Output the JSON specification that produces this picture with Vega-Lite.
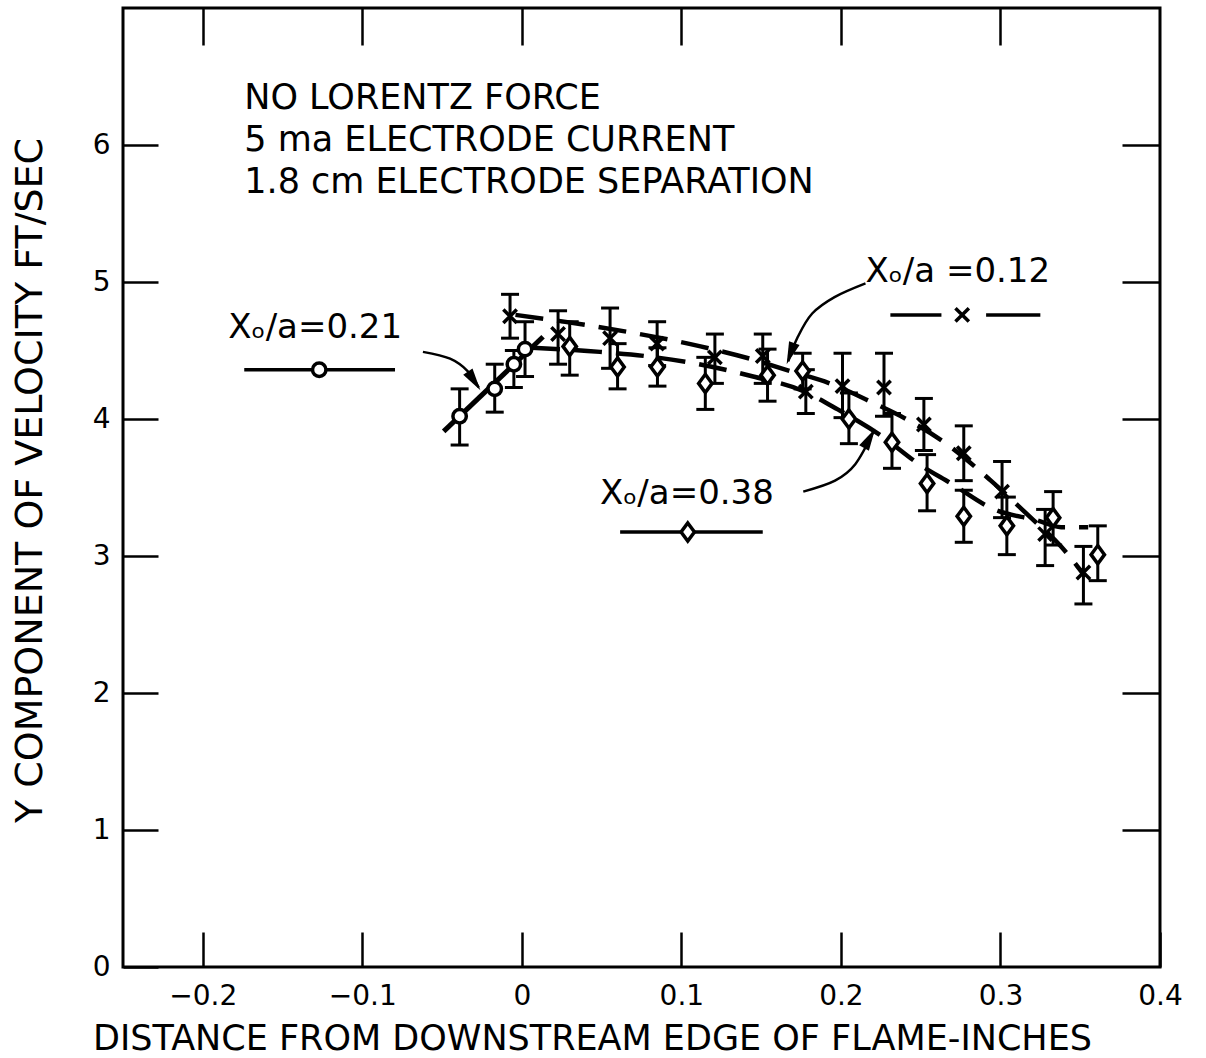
{
  "$schema": "https://vega.github.io/schema/vega-lite/v6.json",
  "width": 1037,
  "height": 959,
  "autosize": "none",
  "padding": {"left": 123, "top": 8, "right": 46, "bottom": 91},
  "background": "white",
  "config": {
    "view": {"stroke": "black", "strokeWidth": 3},
    "axis": {
      "domain": false,
      "grid": false,
      "ticks": true,
      "tickColor": "black",
      "tickWidth": 2.5,
      "tickSize": -35,
      "labelFont": "DejaVu Sans",
      "labelFontSize": 28,
      "labelColor": "black",
      "labelFlush": false,
      "labelOverlap": false,
      "titleFont": "DejaVu Sans",
      "titleFontSize": 35,
      "titleFontWeight": "normal",
      "titleColor": "black"
    },
    "text": {"font": "DejaVu Sans", "color": "black"}
  },
  "datasets": {
    "pts": [
      {"series": "0.21", "x": -0.039, "y": 4.02, "lo": 3.81, "hi": 4.22},
      {"series": "0.21", "x": -0.017, "y": 4.22, "lo": 4.05, "hi": 4.40},
      {"series": "0.21", "x": -0.005, "y": 4.40, "lo": 4.23, "hi": 4.50},
      {"series": "0.21", "x": 0.002, "y": 4.51, "lo": 4.31, "hi": 4.71},
      {"series": "0.12", "x": -0.0074, "y": 4.75, "lo": 4.59, "hi": 4.91},
      {"series": "0.12", "x": 0.0227, "y": 4.62, "lo": 4.40, "hi": 4.79},
      {"series": "0.12", "x": 0.0553, "y": 4.59, "lo": 4.37, "hi": 4.81},
      {"series": "0.12", "x": 0.0848, "y": 4.55, "lo": 4.39, "hi": 4.71},
      {"series": "0.12", "x": 0.121, "y": 4.45, "lo": 4.26, "hi": 4.62},
      {"series": "0.12", "x": 0.151, "y": 4.46, "lo": 4.26, "hi": 4.62},
      {"series": "0.12", "x": 0.178, "y": 4.20, "lo": 4.04, "hi": 4.36},
      {"series": "0.12", "x": 0.201, "y": 4.24, "lo": 4.01, "hi": 4.48},
      {"series": "0.12", "x": 0.227, "y": 4.23, "lo": 4.02, "hi": 4.48},
      {"series": "0.12", "x": 0.252, "y": 3.96, "lo": 3.77, "hi": 4.15},
      {"series": "0.12", "x": 0.277, "y": 3.75, "lo": 3.55, "hi": 3.95},
      {"series": "0.12", "x": 0.301, "y": 3.47, "lo": 3.28, "hi": 3.69},
      {"series": "0.12", "x": 0.328, "y": 3.16, "lo": 2.93, "hi": 3.34},
      {"series": "0.12", "x": 0.352, "y": 2.88, "lo": 2.65, "hi": 3.07},
      {"series": "0.38", "x": 0.030, "y": 4.53, "lo": 4.32, "hi": 4.71},
      {"series": "0.38", "x": 0.060, "y": 4.38, "lo": 4.22, "hi": 4.55},
      {"series": "0.38", "x": 0.085, "y": 4.38, "lo": 4.24, "hi": 4.52},
      {"series": "0.38", "x": 0.115, "y": 4.26, "lo": 4.07, "hi": 4.45},
      {"series": "0.38", "x": 0.154, "y": 4.32, "lo": 4.13, "hi": 4.51},
      {"series": "0.38", "x": 0.176, "y": 4.35, "lo": 4.22, "hi": 4.48},
      {"series": "0.38", "x": 0.205, "y": 4.00, "lo": 3.82, "hi": 4.19},
      {"series": "0.38", "x": 0.232, "y": 3.83, "lo": 3.64, "hi": 4.04},
      {"series": "0.38", "x": 0.254, "y": 3.53, "lo": 3.33, "hi": 3.74},
      {"series": "0.38", "x": 0.277, "y": 3.29, "lo": 3.10, "hi": 3.48},
      {"series": "0.38", "x": 0.304, "y": 3.22, "lo": 3.01, "hi": 3.43},
      {"series": "0.38", "x": 0.333, "y": 3.28, "lo": 3.08, "hi": 3.47},
      {"series": "0.38", "x": 0.361, "y": 3.01, "lo": 2.82, "hi": 3.22}
    ],
    "curves": [
      {"series": "0.12", "x": -0.004, "y": 4.76},
      {"series": "0.12", "x": 0.049, "y": 4.67},
      {"series": "0.12", "x": 0.112, "y": 4.53},
      {"series": "0.12", "x": 0.143, "y": 4.44},
      {"series": "0.12", "x": 0.168, "y": 4.35},
      {"series": "0.12", "x": 0.193, "y": 4.26},
      {"series": "0.12", "x": 0.218, "y": 4.13},
      {"series": "0.12", "x": 0.244, "y": 3.98},
      {"series": "0.12", "x": 0.266, "y": 3.82},
      {"series": "0.12", "x": 0.294, "y": 3.55},
      {"series": "0.12", "x": 0.319, "y": 3.28},
      {"series": "0.12", "x": 0.338, "y": 3.07},
      {"series": "0.12", "x": 0.353, "y": 2.85},
      {"series": "0.38", "x": 0.0064, "y": 4.52},
      {"series": "0.38", "x": 0.049, "y": 4.49},
      {"series": "0.38", "x": 0.077, "y": 4.46},
      {"series": "0.38", "x": 0.111, "y": 4.40},
      {"series": "0.38", "x": 0.145, "y": 4.31},
      {"series": "0.38", "x": 0.175, "y": 4.21},
      {"series": "0.38", "x": 0.198, "y": 4.07},
      {"series": "0.38", "x": 0.225, "y": 3.88},
      {"series": "0.38", "x": 0.249, "y": 3.67},
      {"series": "0.38", "x": 0.269, "y": 3.53},
      {"series": "0.38", "x": 0.296, "y": 3.34},
      {"series": "0.38", "x": 0.323, "y": 3.26},
      {"series": "0.38", "x": 0.338, "y": 3.21},
      {"series": "0.38", "x": 0.355, "y": 3.21}
    ],
    "fit": [
      {"x": -0.049, "y": 3.91},
      {"x": 0.0133, "y": 4.60}
    ],
    "notes": [
      {"x": -0.174, "y": 6.34, "text": "NO LORENTZ FORCE"},
      {"x": -0.174, "y": 6.035, "text": "5 ma ELECTRODE CURRENT"},
      {"x": -0.174, "y": 5.73, "text": "1.8 cm ELECTRODE SEPARATION"}
    ],
    "labels": [
      {"x": -0.184, "y": 4.59, "text": "Xₒ/a=0.21"},
      {"x": 0.2154, "y": 5.0, "text": "Xₒ/a =0.12"},
      {"x": 0.049, "y": 3.38, "text": "Xₒ/a=0.38"}
    ],
    "legLines": [
      {"seg": "a", "x": -0.174, "y": 4.36},
      {"seg": "a", "x": -0.0795, "y": 4.36},
      {"seg": "b1", "x": 0.231, "y": 4.76},
      {"seg": "b1", "x": 0.263, "y": 4.76},
      {"seg": "b2", "x": 0.291, "y": 4.76},
      {"seg": "b2", "x": 0.325, "y": 4.76},
      {"seg": "c", "x": 0.0616, "y": 3.175},
      {"seg": "c", "x": 0.151, "y": 3.175}
    ],
    "legMarks": [
      {"series": "0.21", "x": -0.127, "y": 4.36},
      {"series": "0.12", "x": 0.276, "y": 4.76},
      {"series": "0.38", "x": 0.104, "y": 3.175}
    ],
    "arrows": [
      {"arrow": "a21", "i": 0, "x": -0.062, "y": 4.49},
      {"arrow": "a21", "i": 1, "x": -0.045, "y": 4.44},
      {"arrow": "a21", "i": 2, "x": -0.034, "y": 4.35},
      {"arrow": "a21", "i": 3, "x": -0.027, "y": 4.23},
      {"arrow": "a12", "i": 0, "x": 0.2154, "y": 4.99},
      {"arrow": "a12", "i": 1, "x": 0.196, "y": 4.89},
      {"arrow": "a12", "i": 2, "x": 0.182, "y": 4.77},
      {"arrow": "a12", "i": 3, "x": 0.173, "y": 4.60},
      {"arrow": "a12", "i": 4, "x": 0.167, "y": 4.42},
      {"arrow": "a38", "i": 0, "x": 0.1764, "y": 3.47},
      {"arrow": "a38", "i": 1, "x": 0.1963, "y": 3.55},
      {"arrow": "a38", "i": 2, "x": 0.209, "y": 3.67},
      {"arrow": "a38", "i": 3, "x": 0.2205, "y": 3.91}
    ],
    "tips": [
      {"arrow": "a21", "x": -0.026, "y": 4.21},
      {"arrow": "a12", "x": 0.166, "y": 4.40},
      {"arrow": "a38", "x": 0.2215, "y": 3.93}
    ]
  },
  "resolve": {"axis": {"x": "independent", "y": "independent"}},
  "layer": [
    {
      "data": {"name": "curves"},
      "mark": {"type": "line", "stroke": "black", "strokeWidth": 4.5, "strokeDash": [28, 14], "interpolate": "monotone"},
      "encoding": {
        "x": {"field": "x", "type": "quantitative", "scale": {"domain": [-0.25, 0.4], "nice": false, "zero": false},
          "axis": {"orient": "bottom", "values": [-0.2, -0.1, 0, 0.1, 0.2, 0.3, 0.4], "format": ".1~f", "labelPadding": 50,
            "title": "DISTANCE FROM DOWNSTREAM EDGE OF FLAME-INCHES", "titleX": 469, "titleY": 82, "titleBaseline": "alphabetic", "titleAlign": "center"}},
        "y": {"field": "y", "type": "quantitative", "scale": {"domain": [0, 7], "nice": false, "zero": false},
          "axis": {"orient": "left", "values": [0, 1, 2, 3, 4, 5, 6], "format": "d", "labelPadding": 48,
            "title": "Y COMPONENT OF VELOCITY FT/SEC", "titleFontSize": 38, "titleX": -82, "titleY": 472, "titleAngle": -90, "titleBaseline": "alphabetic", "titleAlign": "center"}},
        "detail": {"field": "series"}
      }
    },
    {
      "data": {"name": "fit"},
      "mark": {"type": "line", "stroke": "black", "strokeWidth": 5},
      "encoding": {
        "x": {"field": "x", "type": "quantitative", "scale": {"domain": [-0.25, 0.4], "nice": false, "zero": false},
          "axis": {"orient": "top", "values": [-0.2, -0.1, 0, 0.1, 0.2, 0.3], "labels": false, "title": null, "tickSize": -37}},
        "y": {"field": "y", "type": "quantitative", "scale": {"domain": [0, 7], "nice": false, "zero": false},
          "axis": {"orient": "right", "values": [1, 2, 3, 4, 5, 6], "labels": false, "title": null, "tickSize": -38}}
      }
    },
    {
      "data": {"name": "pts"},
      "mark": {"type": "rule", "stroke": "black", "strokeWidth": 3},
      "encoding": {
        "x": {"field": "x", "type": "quantitative", "scale": {"domain": [-0.25, 0.4], "nice": false, "zero": false}, "axis": null},
        "y": {"field": "lo", "type": "quantitative", "scale": {"domain": [0, 7], "nice": false, "zero": false}, "axis": null},
        "y2": {"field": "hi"}
      }
    },
    {
      "data": {"name": "pts"},
      "mark": {"type": "tick", "orient": "horizontal", "size": 18, "thickness": 3, "color": "black", "opacity": 1},
      "encoding": {
        "x": {"field": "x", "type": "quantitative", "scale": {"domain": [-0.25, 0.4], "nice": false, "zero": false}, "axis": null},
        "y": {"field": "lo", "type": "quantitative", "scale": {"domain": [0, 7], "nice": false, "zero": false}, "axis": null}
      }
    },
    {
      "data": {"name": "pts"},
      "mark": {"type": "tick", "orient": "horizontal", "size": 18, "thickness": 3, "color": "black", "opacity": 1},
      "encoding": {
        "x": {"field": "x", "type": "quantitative", "scale": {"domain": [-0.25, 0.4], "nice": false, "zero": false}, "axis": null},
        "y": {"field": "hi", "type": "quantitative", "scale": {"domain": [0, 7], "nice": false, "zero": false}, "axis": null}
      }
    },
    {
      "data": {"name": "pts"},
      "mark": {"type": "point", "filled": true, "fill": "white", "stroke": "black", "strokeWidth": 3.5, "size": 180, "opacity": 1},
      "encoding": {
        "x": {"field": "x", "type": "quantitative", "scale": {"domain": [-0.25, 0.4], "nice": false, "zero": false}, "axis": null},
        "y": {"field": "y", "type": "quantitative", "scale": {"domain": [0, 7], "nice": false, "zero": false}, "axis": null},
        "shape": {"field": "series", "type": "nominal", "legend": null,
          "scale": {"domain": ["0.21", "0.12", "0.38"], "range": ["circle", "M-1,-1L1,1M-1,1L1,-1", "M0,-1.35L1,0L0,1.35L-1,0Z"]}}
      }
    },
    {
      "data": {"name": "notes"},
      "mark": {"type": "text", "align": "left", "baseline": "middle", "fontSize": 35},
      "encoding": {
        "x": {"field": "x", "type": "quantitative", "scale": {"domain": [-0.25, 0.4], "nice": false, "zero": false}, "axis": null},
        "y": {"field": "y", "type": "quantitative", "scale": {"domain": [0, 7], "nice": false, "zero": false}, "axis": null},
        "text": {"field": "text"}
      }
    },
    {
      "data": {"name": "labels"},
      "mark": {"type": "text", "align": "left", "baseline": "alphabetic", "fontSize": 34},
      "encoding": {
        "x": {"field": "x", "type": "quantitative", "scale": {"domain": [-0.25, 0.4], "nice": false, "zero": false}, "axis": null},
        "y": {"field": "y", "type": "quantitative", "scale": {"domain": [0, 7], "nice": false, "zero": false}, "axis": null},
        "text": {"field": "text"}
      }
    },
    {
      "data": {"name": "legLines"},
      "mark": {"type": "line", "stroke": "black", "strokeWidth": 3.5},
      "encoding": {
        "x": {"field": "x", "type": "quantitative", "scale": {"domain": [-0.25, 0.4], "nice": false, "zero": false}, "axis": null},
        "y": {"field": "y", "type": "quantitative", "scale": {"domain": [0, 7], "nice": false, "zero": false}, "axis": null},
        "detail": {"field": "seg"}
      }
    },
    {
      "data": {"name": "legMarks"},
      "mark": {"type": "point", "filled": true, "fill": "white", "stroke": "black", "strokeWidth": 3.5, "size": 180, "opacity": 1},
      "encoding": {
        "x": {"field": "x", "type": "quantitative", "scale": {"domain": [-0.25, 0.4], "nice": false, "zero": false}, "axis": null},
        "y": {"field": "y", "type": "quantitative", "scale": {"domain": [0, 7], "nice": false, "zero": false}, "axis": null},
        "shape": {"field": "series", "type": "nominal", "legend": null}
      }
    },
    {
      "data": {"name": "arrows"},
      "mark": {"type": "line", "stroke": "black", "strokeWidth": 2.5, "interpolate": "cardinal"},
      "encoding": {
        "x": {"field": "x", "type": "quantitative", "scale": {"domain": [-0.25, 0.4], "nice": false, "zero": false}, "axis": null},
        "y": {"field": "y", "type": "quantitative", "scale": {"domain": [0, 7], "nice": false, "zero": false}, "axis": null},
        "detail": {"field": "arrow"},
        "order": {"field": "i", "type": "quantitative"}
      }
    },
    {
      "data": {"name": "tips"},
      "transform": [{"filter": "datum.arrow === 'a21'"}],
      "mark": {"type": "point", "filled": true, "color": "black", "opacity": 1, "size": 500, "angle": 146, "shape": "M0,0L0.5,2L-0.5,2Z"},
      "encoding": {
        "x": {"field": "x", "type": "quantitative", "scale": {"domain": [-0.25, 0.4], "nice": false, "zero": false}, "axis": null},
        "y": {"field": "y", "type": "quantitative", "scale": {"domain": [0, 7], "nice": false, "zero": false}, "axis": null}
      }
    },
    {
      "data": {"name": "tips"},
      "transform": [{"filter": "datum.arrow === 'a12'"}],
      "mark": {"type": "point", "filled": true, "color": "black", "opacity": 1, "size": 500, "angle": 200, "shape": "M0,0L0.5,2L-0.5,2Z"},
      "encoding": {
        "x": {"field": "x", "type": "quantitative", "scale": {"domain": [-0.25, 0.4], "nice": false, "zero": false}, "axis": null},
        "y": {"field": "y", "type": "quantitative", "scale": {"domain": [0, 7], "nice": false, "zero": false}, "axis": null}
      }
    },
    {
      "data": {"name": "tips"},
      "transform": [{"filter": "datum.arrow === 'a38'"}],
      "mark": {"type": "point", "filled": true, "color": "black", "opacity": 1, "size": 500, "angle": 30, "shape": "M0,0L0.5,2L-0.5,2Z"},
      "encoding": {
        "x": {"field": "x", "type": "quantitative", "scale": {"domain": [-0.25, 0.4], "nice": false, "zero": false}, "axis": null},
        "y": {"field": "y", "type": "quantitative", "scale": {"domain": [0, 7], "nice": false, "zero": false}, "axis": null}
      }
    }
  ]
}
